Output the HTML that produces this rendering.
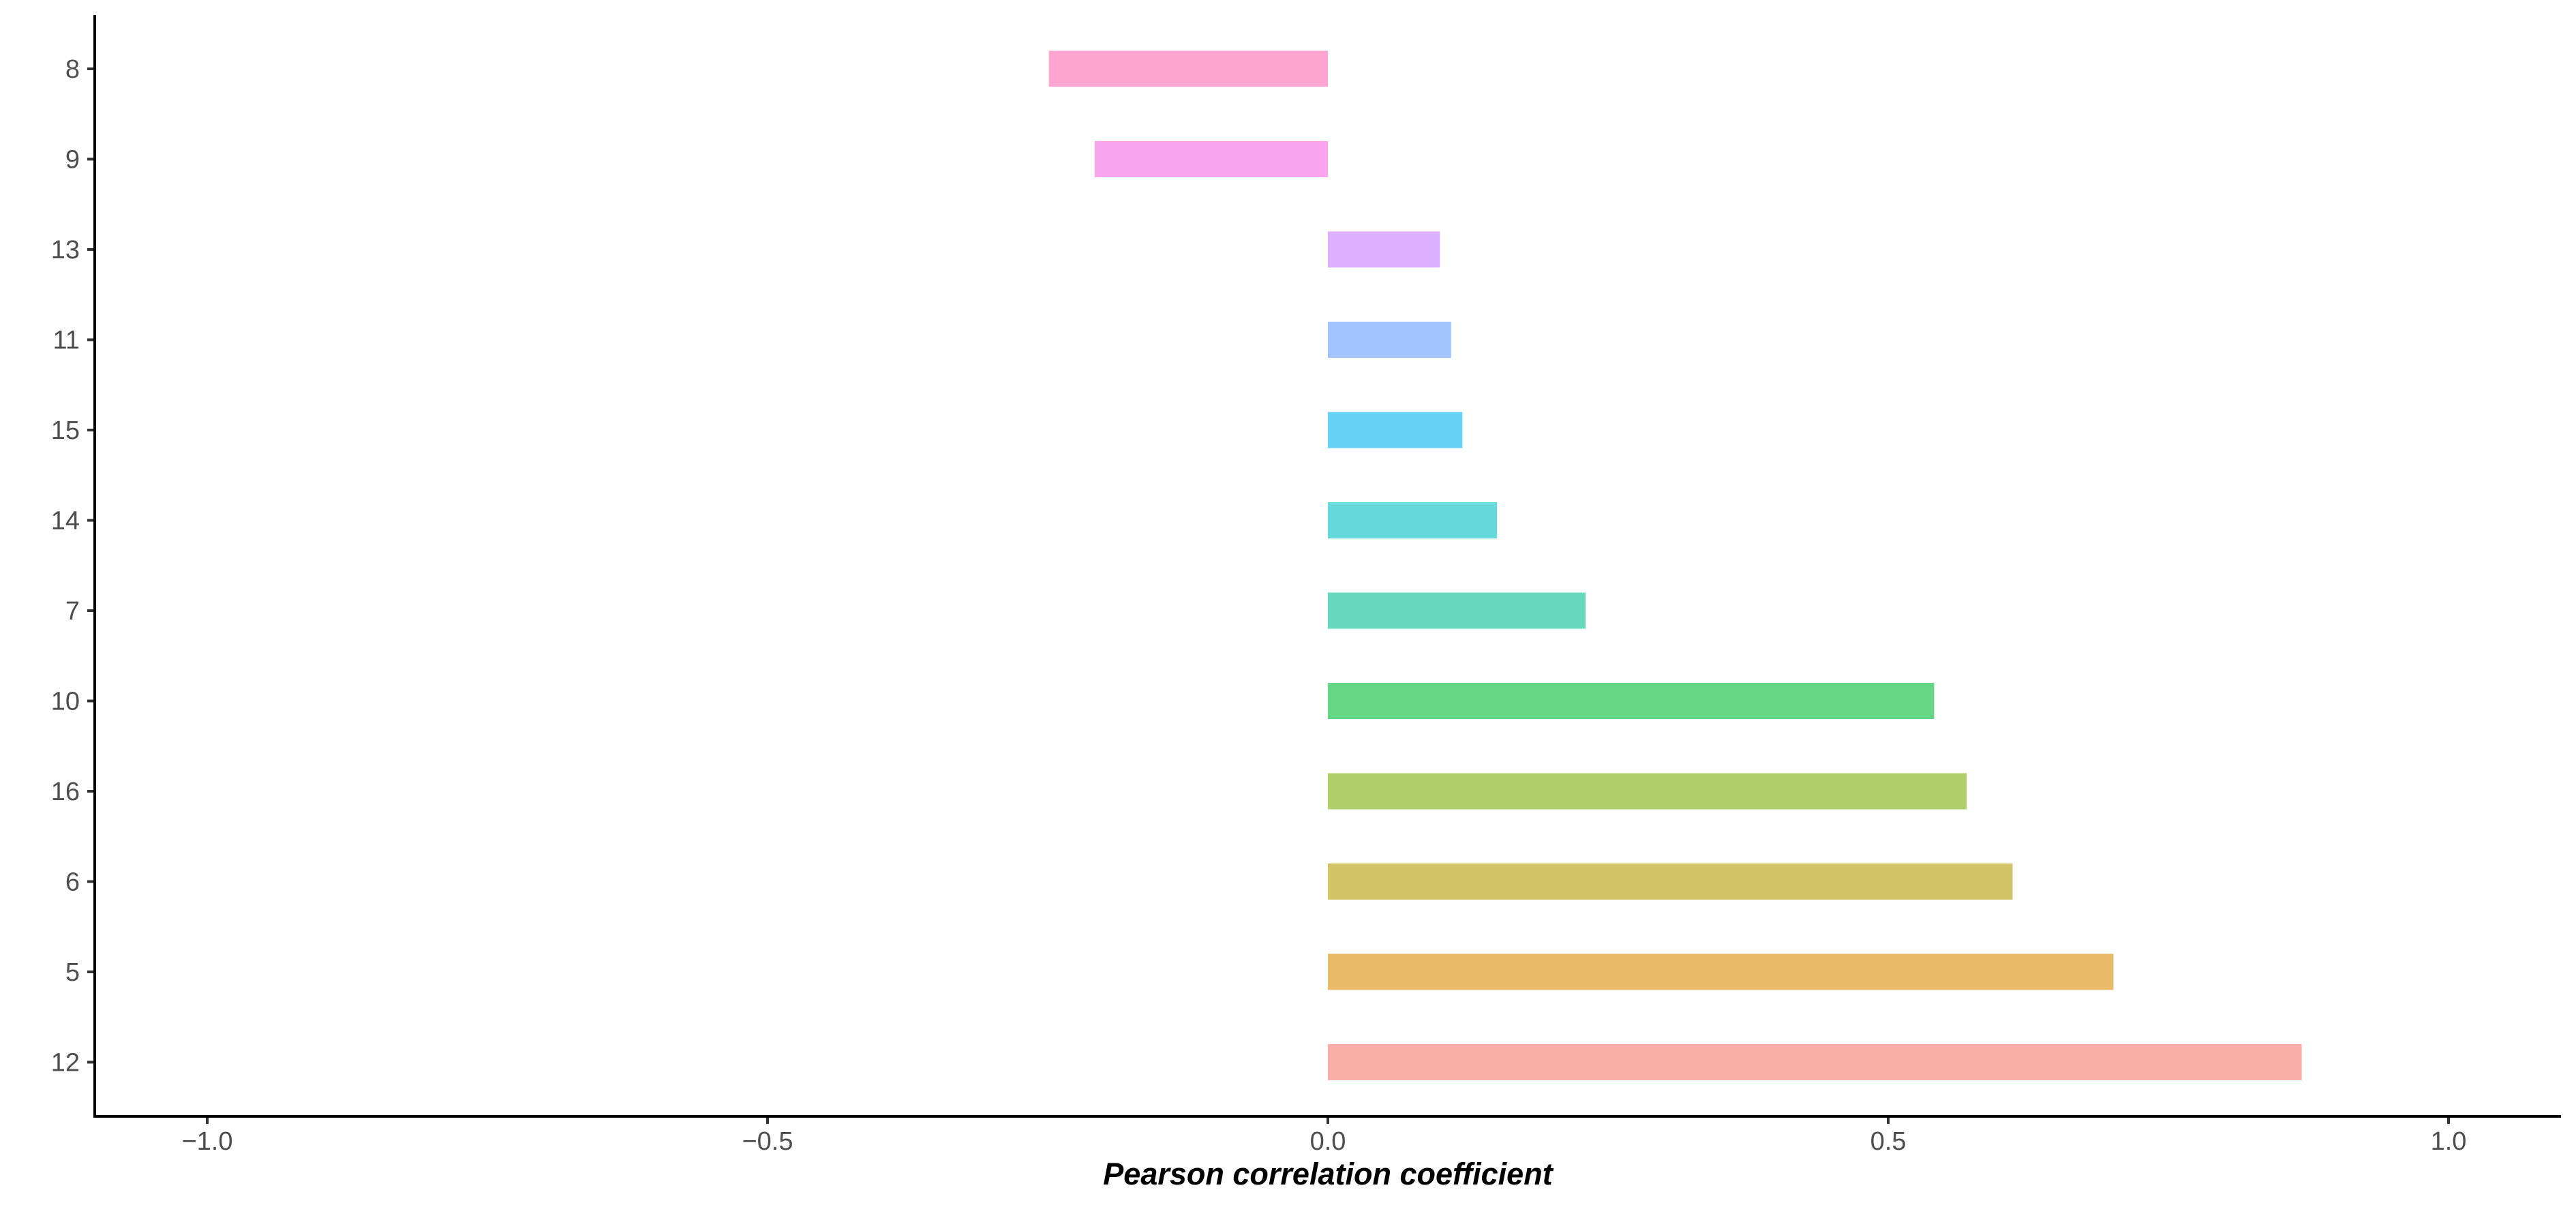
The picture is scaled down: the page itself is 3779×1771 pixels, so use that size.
<!DOCTYPE html>
<html><head><meta charset="utf-8"><style>
html,body{margin:0;padding:0;background:#fff;width:3779px;height:1771px;overflow:hidden}
svg text{font-family:"Liberation Sans",sans-serif}
</style></head><body>
<svg id="chart" width="3779" height="1771" viewBox="0 0 3779 1771" xmlns="http://www.w3.org/2000/svg">
<rect width="3779" height="1771" fill="#fff"/>
<g id="bars"></g>
<g id="axes"></g>
<text x="1948" y="1738" text-anchor="middle" font-size="45" font-weight="bold" font-style="italic" fill="#000">Pearson correlation coefficient</text>
</svg>
<script>
const categories = ["8","9","13","11","15","14","7","10","16","6","5","12"];
const values = [-0.249,-0.208,0.100,0.110,0.120,0.151,0.230,0.541,0.570,0.611,0.701,0.869];
const colors = ["#FFA6D0","#F8A4EF","#DCB0FD","#A2C4FE","#66D0F5","#66D9DD","#66D9BA","#66D685","#B0CE69","#D4C468","#E9BA68","#FAAFA8"];
const xTicks = [-1.0,-0.5,0.0,0.5,1.0];
const xTickLabels = ["\u22121.0","\u22120.5","0.0","0.5","1.0"];

const NS="http://www.w3.org/2000/svg";
const x0=1948, xUnit=1644, yTop=101, yStep=132.5, barH=53;
const axisLeft=139, axisRight=3757, axisTop=22, axisBottom=1638;
function xs(v){return x0+v*xUnit;}
function ys(i){return yTop+i*yStep;}
function mk(tag,attrs,parent){const e=document.createElementNS(NS,tag);for(const k in attrs)e.setAttribute(k,attrs[k]);parent.appendChild(e);return e;}
const bars=document.getElementById('bars'), axes=document.getElementById('axes');
categories.forEach((c,i)=>{
  const v=values[i];
  const r=mk('rect',{x:Math.min(xs(0),xs(v)),y:ys(i)-barH/2,width:Math.abs(xs(v)-xs(0)),height:barH,fill:colors[i]},bars);
  
  
  const t=mk('line',{x1:128,x2:axisLeft,y1:ys(i),y2:ys(i),stroke:'#333',"stroke-width":4},axes);
  
  
  const l=mk('text',{x:117,y:ys(i)+13,"text-anchor":"end","font-size":38,fill:'#4d4d4d'},axes);
  l.textContent=c;
  
  
});
xTicks.forEach((v,i)=>{
  const t=mk('line',{x1:xs(v),x2:xs(v),y1:axisBottom,y2:1649,stroke:'#333',"stroke-width":4},axes);
  
  
  const l=mk('text',{x:xs(v),y:1687,"text-anchor":"middle","font-size":38,fill:'#4d4d4d'},axes);
  l.textContent=xTickLabels[i];
  
  
});
const ya=mk('line',{x1:axisLeft,x2:axisLeft,y1:axisTop,y2:axisBottom+2,stroke:'#000',"stroke-width":4},axes);


const xa=mk('line',{x1:axisLeft-2,x2:axisRight,y1:axisBottom,y2:axisBottom,stroke:'#000',"stroke-width":4},axes);


</script>
</body></html>
